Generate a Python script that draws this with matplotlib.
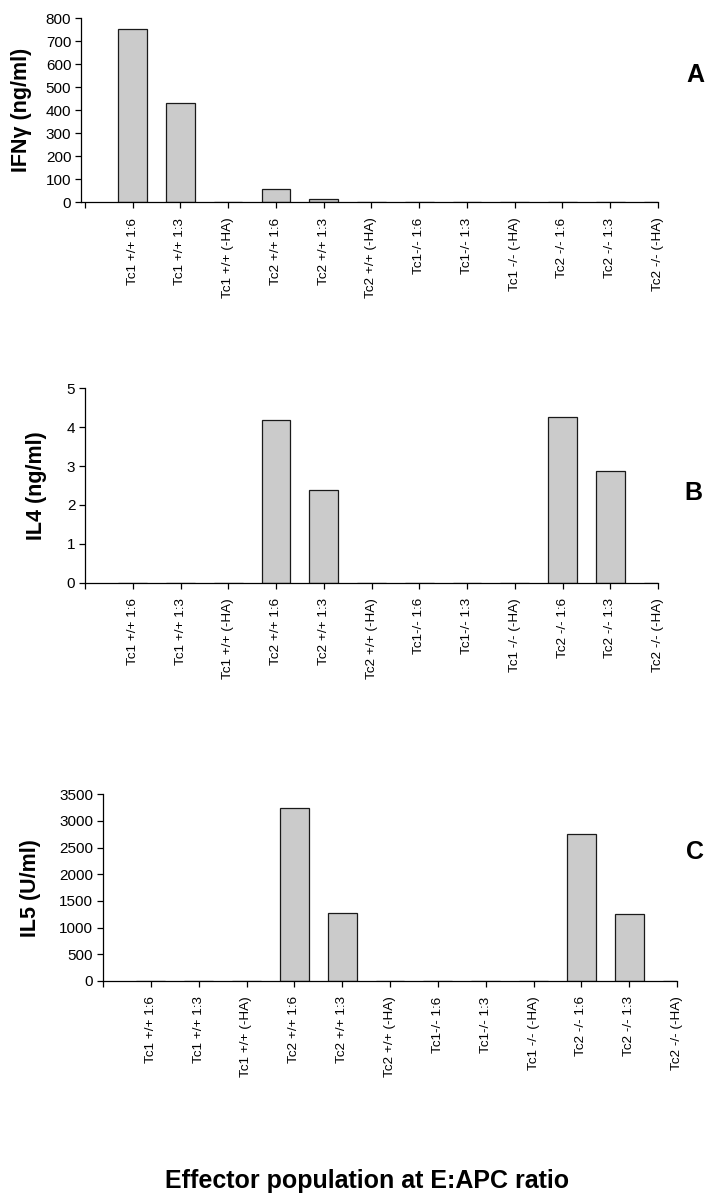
import matplotlib
matplotlib.use("Agg")
import matplotlib.pyplot as plt

plt.rcParams['font.family'] = ['Liberation Sans', 'DejaVu Sans']

categories = ['Tc1 +/+ 1:6', 'Tc1 +/+ 1:3', 'Tc1 +/+ (-HA)',
              'Tc2 +/+ 1:6', 'Tc2 +/+ 1:3', 'Tc2 +/+ (-HA)',
              'Tc1-/- 1:6', 'Tc1-/- 1:3', 'Tc1 -/- (-HA)',
              'Tc2 -/- 1:6', 'Tc2 -/- 1:3', 'Tc2 -/- (-HA)']

ifng = [752, 433, 0, 58, 13, 0, 0, 0, 0, 0, 0, 0]
il4 = [0, 0, 0, 4.18, 2.38, 0, 0, 0, 0, 4.27, 2.87, 0]
il5 = [0, 0, 0, 3250, 1268, 0, 0, 0, 0, 2750, 1250, 0]

panels = [
    dict(data=ifng, ylabel='IFNγ (ng/ml)', ymax=800, ystep=100, letter='A',
         rect=[81/710, 1-202.3/1200, 577/710, 184/1200], xmin=-0.08,
         labx=-0.085, letter_xy=(695, 75)),
    dict(data=il4, ylabel='IL4 (ng/ml)', ymax=5, ystep=1, letter='B',
         rect=[85/710, 1-582.7/1200, 573/710, 194.4/1200], xmin=0,
         labx=-0.066, letter_xy=(693, 493)),
    dict(data=il5, ylabel='IL5 (U/ml)', ymax=3500, ystep=500, letter='C',
         rect=[103/710, 1-981/1200, 574/710, 186.7/1200], xmin=0,
         labx=-0.108, letter_xy=(695, 852)),
]

fig = plt.figure(figsize=(7.1, 12), dpi=100)

positions = list(range(1, len(categories) + 1))

for p in panels:
    ax = fig.add_axes(p['rect'])
    ax.bar(positions, p['data'], width=0.6, color='#cbcbcb',
           edgecolor='#1a1a1a', linewidth=0.9, zorder=2)
    ax.set_xlim(p['xmin'], 12)
    ax.set_ylim(0, p['ymax'])
    n = int(round(p['ymax'] / p['ystep']))
    ax.set_yticks([p['ystep'] * i for i in range(n + 1)])
    ax.set_xticks([0] + positions)
    ax.set_xticklabels([''] + categories, rotation=90, fontsize=9.7)
    ax.tick_params(axis='y', labelsize=11, length=4, width=0.9, pad=3,
                   direction='out')
    ax.tick_params(axis='x', length=4, width=0.9, pad=7, direction='out')
    for s in ['top', 'right']:
        ax.spines[s].set_visible(False)
    for s in ['left', 'bottom']:
        ax.spines[s].set_linewidth(0.9)
    ax.set_ylabel(p['ylabel'], fontsize=15.5, fontweight='bold')
    ax.yaxis.set_label_coords(p['labx'], 0.5)
    fig.text(p['letter_xy'][0] / 710, 1 - p['letter_xy'][1] / 1200,
             p['letter'], fontsize=18, fontweight='bold',
             ha='center', va='center')

fig.text(367 / 710, 1 - 1181 / 1200, 'Effector population at E:APC ratio',
         fontsize=18, fontweight='bold', ha='center', va='center')

fig.savefig('out.png', dpi=100)
